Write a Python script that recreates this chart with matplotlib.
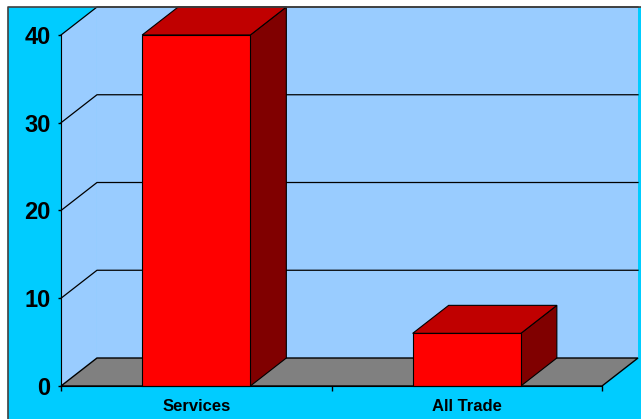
import matplotlib
matplotlib.use("Agg")
import matplotlib.pyplot as plt
from matplotlib.patches import Polygon, Rectangle

categories = ["Services", "All Trade"]
values = [40.0, 6.0]
y_ticks = [0, 10, 20, 30, 40]

BG = "#00CCFF"
WALL = "#99CCFF"
FLOOR = "#808080"
FRONT = "#FF0000"
TOP = "#C00000"
SIDE = "#800000"

plt.rcParams["font.family"] = ["Liberation Sans", "DejaVu Sans"]
plt.rcParams["font.weight"] = "bold"

W, H = 641, 419
fig = plt.figure(figsize=(W / 100, H / 100), dpi=100)
fig.patch.set_facecolor("white")
fig.patches.append(Rectangle((8 / W, -0.1), 1.1, (H - 7) / H + 0.1, transform=fig.transFigure,
                             facecolor=BG, edgecolor="none", zorder=-10))

# axes covers front plane plus the depth offset of the back wall
ax = fig.add_axes([61 / W, (H - 386) / H, (638 - 61) / W, (386 - 7) / H])
dx = 0.133   # depth offset in category units
dy = 3.19    # depth offset in value units
ymax = y_ticks[-1]
ax.set_xlim(0, len(categories) + dx)
ax.set_ylim(0, ymax + dy)
ax.patch.set_visible(False)

# side wall and back wall
ax.add_patch(Polygon([(0, 0), (dx, dy), (dx, ymax + dy), (0, ymax)], closed=True,
                     facecolor=WALL, edgecolor="none", clip_on=False, zorder=1))
ax.add_patch(Rectangle((dx, dy), len(categories), ymax, facecolor=WALL,
                       edgecolor="none", clip_on=False, zorder=1))
for v in y_ticks[1:]:
    ax.plot([0, dx, len(categories) + dx], [v, v + dy, v + dy], color="black",
            lw=0.9, clip_on=False, zorder=2)

# floor
ax.add_patch(Polygon([(0, 0), (len(categories), 0), (len(categories) + dx, dy), (dx, dy)],
                     closed=True, facecolor=FLOOR, edgecolor="black", lw=1,
                     clip_on=False, zorder=3))

# bars
width = 0.4
for i, v in enumerate(values):
    x0 = i + 0.5 - width / 2
    x1 = x0 + width
    ax.add_patch(Polygon([(x1, 0), (x1 + dx, dy), (x1 + dx, v + dy), (x1, v)], closed=True,
                         facecolor=SIDE, edgecolor="black", lw=0.8, clip_on=False, zorder=4))
    ax.add_patch(Polygon([(x0, v), (x1, v), (x1 + dx, v + dy), (x0 + dx, v + dy)], closed=True,
                         facecolor=TOP, edgecolor="black", lw=0.8, clip_on=False, zorder=4))
    ax.add_patch(Rectangle((x0, 0), width, v, facecolor=FRONT, edgecolor="black",
                           lw=0.8, clip_on=False, zorder=5))

# axes lines
for s in ["top", "right"]:
    ax.spines[s].set_visible(False)
ax.spines["left"].set_bounds(0, ymax)
ax.spines["bottom"].set_bounds(0, len(categories))
ax.spines["left"].set_zorder(6)
ax.spines["bottom"].set_zorder(6)

ax.set_yticks(y_ticks)
ax.set_yticklabels([str(t) for t in y_ticks], fontsize=17, fontweight="bold")
ax.tick_params(axis="y", length=2.5, width=1, pad=5)

ax.set_xticks(range(len(categories) + 1))
ax.set_xticklabels([""] * (len(categories) + 1))
ax.set_xticks([i + 0.5 for i in range(len(categories))], minor=True)
ax.set_xticklabels(categories, minor=True, fontsize=12, fontweight="bold")
ax.tick_params(axis="x", which="major", length=3.5, width=1)
ax.tick_params(axis="x", which="minor", length=0, pad=9)

# chart area border (top and left edges visible)
fig.add_artist(plt.Line2D([8 / W, 8 / W, 1], [0, (H - 7) / H, (H - 7) / H],
                          transform=fig.transFigure, color="#404040", lw=1.2, zorder=10))

fig.savefig("out.png", dpi=100, facecolor=fig.get_facecolor())
